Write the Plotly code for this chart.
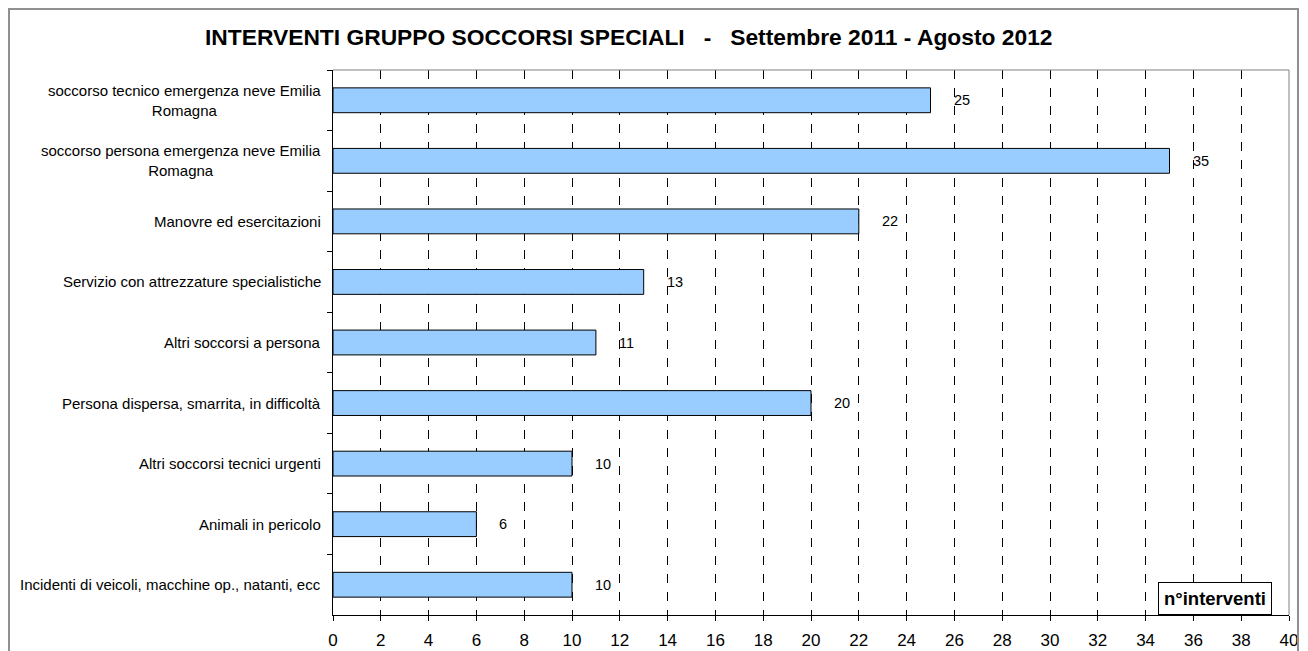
import plotly.graph_objects as go

categories = [
    "soccorso tecnico emergenza neve Emilia<br>Romagna",
    "soccorso persona emergenza neve Emilia<br>Romagna",
    "Manovre ed esercitazioni",
    "Servizio con attrezzature specialistiche",
    "Altri soccorsi a persona",
    "Persona dispersa, smarrita, in difficoltà",
    "Altri soccorsi tecnici urgenti",
    "Animali in pericolo",
    "Incidenti di veicoli, macchine op., natanti, ecc",
]
values = [25, 35, 22, 13, 11, 20, 10, 6, 10]
x_ticks = list(range(0, 41, 2))
title_text = "INTERVENTI GRUPPO SOCCORSI SPECIALI   -   Settembre 2011 - Agosto 2012"
axis_title = "n°interventi"

FONT = "Liberation Sans, Arial, sans-serif"

# page body has an 8px margin; figure coordinates are reference pixels minus 8
W, H = 1300, 643
L, R, T, B = 325, 19, 62, 36
plot_w = W - L - R
plot_h = H - T - B

fig = go.Figure()
fig.add_trace(go.Bar(
    y=categories, x=values, orientation="h",
    marker=dict(color="#99CCFF", line=dict(color="black", width=1)),
    width=0.41, showlegend=False, hoverinfo="x+y",
))

annotations = []
for c in categories:
    annotations.append(dict(
        x=0, xref="x", y=c, yref="y", text=c, showarrow=False,
        xanchor="right", align="center", xshift=-10,
        font=dict(family=FONT, size=15, color="black"),
    ))
for c, v in zip(categories, values):
    annotations.append(dict(
        x=v, xref="x", y=c, yref="y", text=str(v), showarrow=False,
        xanchor="left", xshift=21,
        font=dict(family=FONT, size=14.5, color="black"),
    ))
annotations.append(dict(
    x=(1272 - 8 - L) / plot_w, xref="paper", y=0, yref="paper",
    text="<b>" + axis_title + "</b>",
    showarrow=False, xanchor="right", yanchor="bottom",
    bordercolor="black", borderwidth=1, bgcolor="white", borderpad=5,
    font=dict(family=FONT, size=18.5, color="black"),
))
annotations.append(dict(
    x=(629 - 8 - L) / plot_w, xref="paper", y=1 + (T - (37 - 8)) / plot_h, yref="paper",
    text="<b>" + title_text + "</b>",
    showarrow=False, xanchor="center", yanchor="middle",
    font=dict(family=FONT, size=22.8, color="black"),
))

fig.update_layout(
    width=W, height=H,
    margin=dict(l=L, r=R, t=T, b=B, autoexpand=False),
    paper_bgcolor="white", plot_bgcolor="white",
    annotations=annotations,
)

fig.update_xaxes(
    range=[0, 40], tickmode="array", tickvals=x_ticks, ticktext=[str(t) for t in x_ticks],
    showgrid=True, gridcolor="black", griddash="dash", gridwidth=1,
    showline=True, linecolor="black", linewidth=1,
    ticks="outside", ticklen=5, tickcolor="black", ticklabelstandoff=5,
    tickfont=dict(family=FONT, size=17, color="black"), zeroline=False,
)
fig.update_yaxes(
    autorange="reversed", showticklabels=False, tickson="boundaries",
    ticks="outside", ticklen=5, tickcolor="black",
    showline=True, linecolor="black", linewidth=1, showgrid=False, zeroline=False,
)

fig.add_shape(type="line", xref="paper", yref="paper", x0=0, x1=1, y0=1, y1=1,
              line=dict(color="#808080", width=1))
fig.add_shape(type="line", xref="paper", yref="paper", x0=1, x1=1, y0=0, y1=1,
              line=dict(color="#808080", width=1))
lx = (1 - L) / plot_w
rx = (1290 - L) / plot_w
ty = 1 + (T - 1) / plot_h
by = -(B + 5) / plot_h
fig.add_shape(type="path", xref="paper", yref="paper",
              path=f"M {lx} {by} L {lx} {ty} L {rx} {ty} L {rx} {by}",
              line=dict(color="#909090", width=2))

fig.write_html("out.html")
